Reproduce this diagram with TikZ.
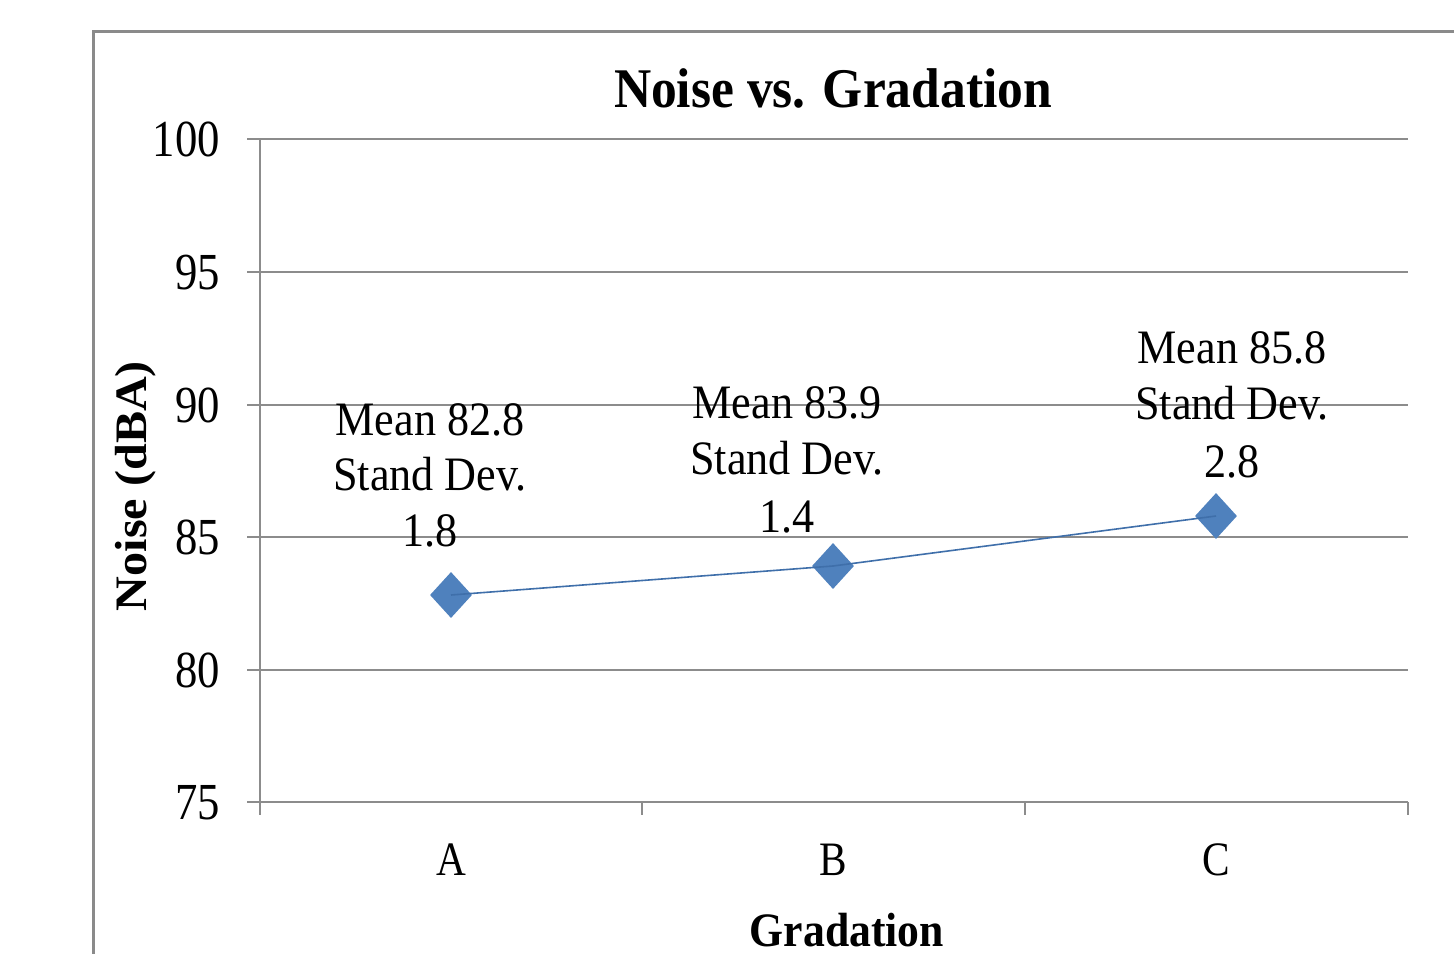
\documentclass[tikz,border=0pt]{standalone}
\usepackage{fontspec}
\setmainfont{Liberation Serif}
\usetikzlibrary{shapes.geometric}
\definecolor{gridgray}{HTML}{8C8C8C}
\definecolor{framegray}{HTML}{8A8A8A}
\definecolor{mark}{HTML}{4F81BD}
\definecolor{serline}{HTML}{3F6FAA}
\newcommand{\sxa}[1]{\scalebox{0.86}[1]{#1}}
\newcommand{\sxb}[1]{\scalebox{0.92}[1]{#1}}
\begin{document}
\begin{tikzpicture}[x=1pt,y=-1pt,
  gridln/.style={draw=gridgray,line width=1.8pt},
  ticklbl/.style={anchor=base east,inner sep=0pt,font=\fontsize{52}{52}\selectfont},
  catlbl/.style={anchor=base,inner sep=0pt,font=\fontsize{48}{48}\selectfont},
  datalbl/.style={anchor=base,inner sep=0pt,font=\fontsize{48}{48}\selectfont},
  marker/.style={diamond,fill=mark,draw=none,inner sep=0pt,minimum width=42pt,minimum height=46pt}]
\useasboundingbox[fill=white] (0,0) rectangle (1454,954);
% outer frame
\draw[framegray,line width=3pt] (1454,31) -- (93,31) -- (93,954);
% title
\node[anchor=base,inner sep=0pt,font=\fontsize{56}{56}\selectfont\bfseries] (title) at (833,107) {\scalebox{0.92}[1]{Noise vs. Gradation}};
% gridlines
\foreach \v/\y in {100/139,95/272,90/405,85/537,80/670,75/802}{
  \draw[gridln] (247,\y) -- (1408,\y);
  \node[ticklbl] (t\v) at (220,\y+17) {\sxa{\v}};
}
% axes
\draw[gridln] (260,139) -- (260,815);
\foreach \x in {642,1025,1408}{ \draw[gridln] (\x,802) -- (\x,815); }
% category labels
\node[catlbl] (ca) at (451,875) {\sxa{A}};
\node[catlbl] (cb) at (833,875) {\sxa{B}};
\node[catlbl] (cc) at (1216,875) {\sxa{C}};
% axis titles
\node[anchor=base,inner sep=0pt,font=\fontsize{48}{48}\selectfont\bfseries] (xt) at (847,946) {\scalebox{0.91}[1]{Gradation}};
\node[anchor=base,inner sep=0pt,rotate=90,font=\fontsize{45}{45}\selectfont\bfseries] (yt) at (146,486) {\scalebox{1.07}[1]{Noise (dBA)}};
% markers
\node[marker] (pA) at (451,595) {};
\node[marker] (pB) at (833,566) {};
\node[marker] (pC) at (1216,516) {};
\draw[serline,line width=1.6pt] (pA.center) -- (pB.center) -- (pC.center);
% data labels
\node[datalbl] (a1) at (430,435) {\sxb{Mean 82.8}};
\node[datalbl] (a2) at (430,490) {\sxb{Stand Dev.}};
\node[datalbl] (a3) at (430,546) {\sxb{1.8}};
\node[datalbl] (b1) at (787,418) {\sxb{Mean 83.9}};
\node[datalbl] (b2) at (787,474) {\sxb{Stand Dev.}};
\node[datalbl] (b3) at (787,532) {\sxb{1.4}};
\node[datalbl] (c1) at (1232,363) {\sxb{Mean 85.8}};
\node[datalbl] (c2) at (1232,419) {\sxb{Stand Dev.}};
\node[datalbl] (c3) at (1232,477) {\sxb{2.8}};
\end{tikzpicture}
\end{document}
